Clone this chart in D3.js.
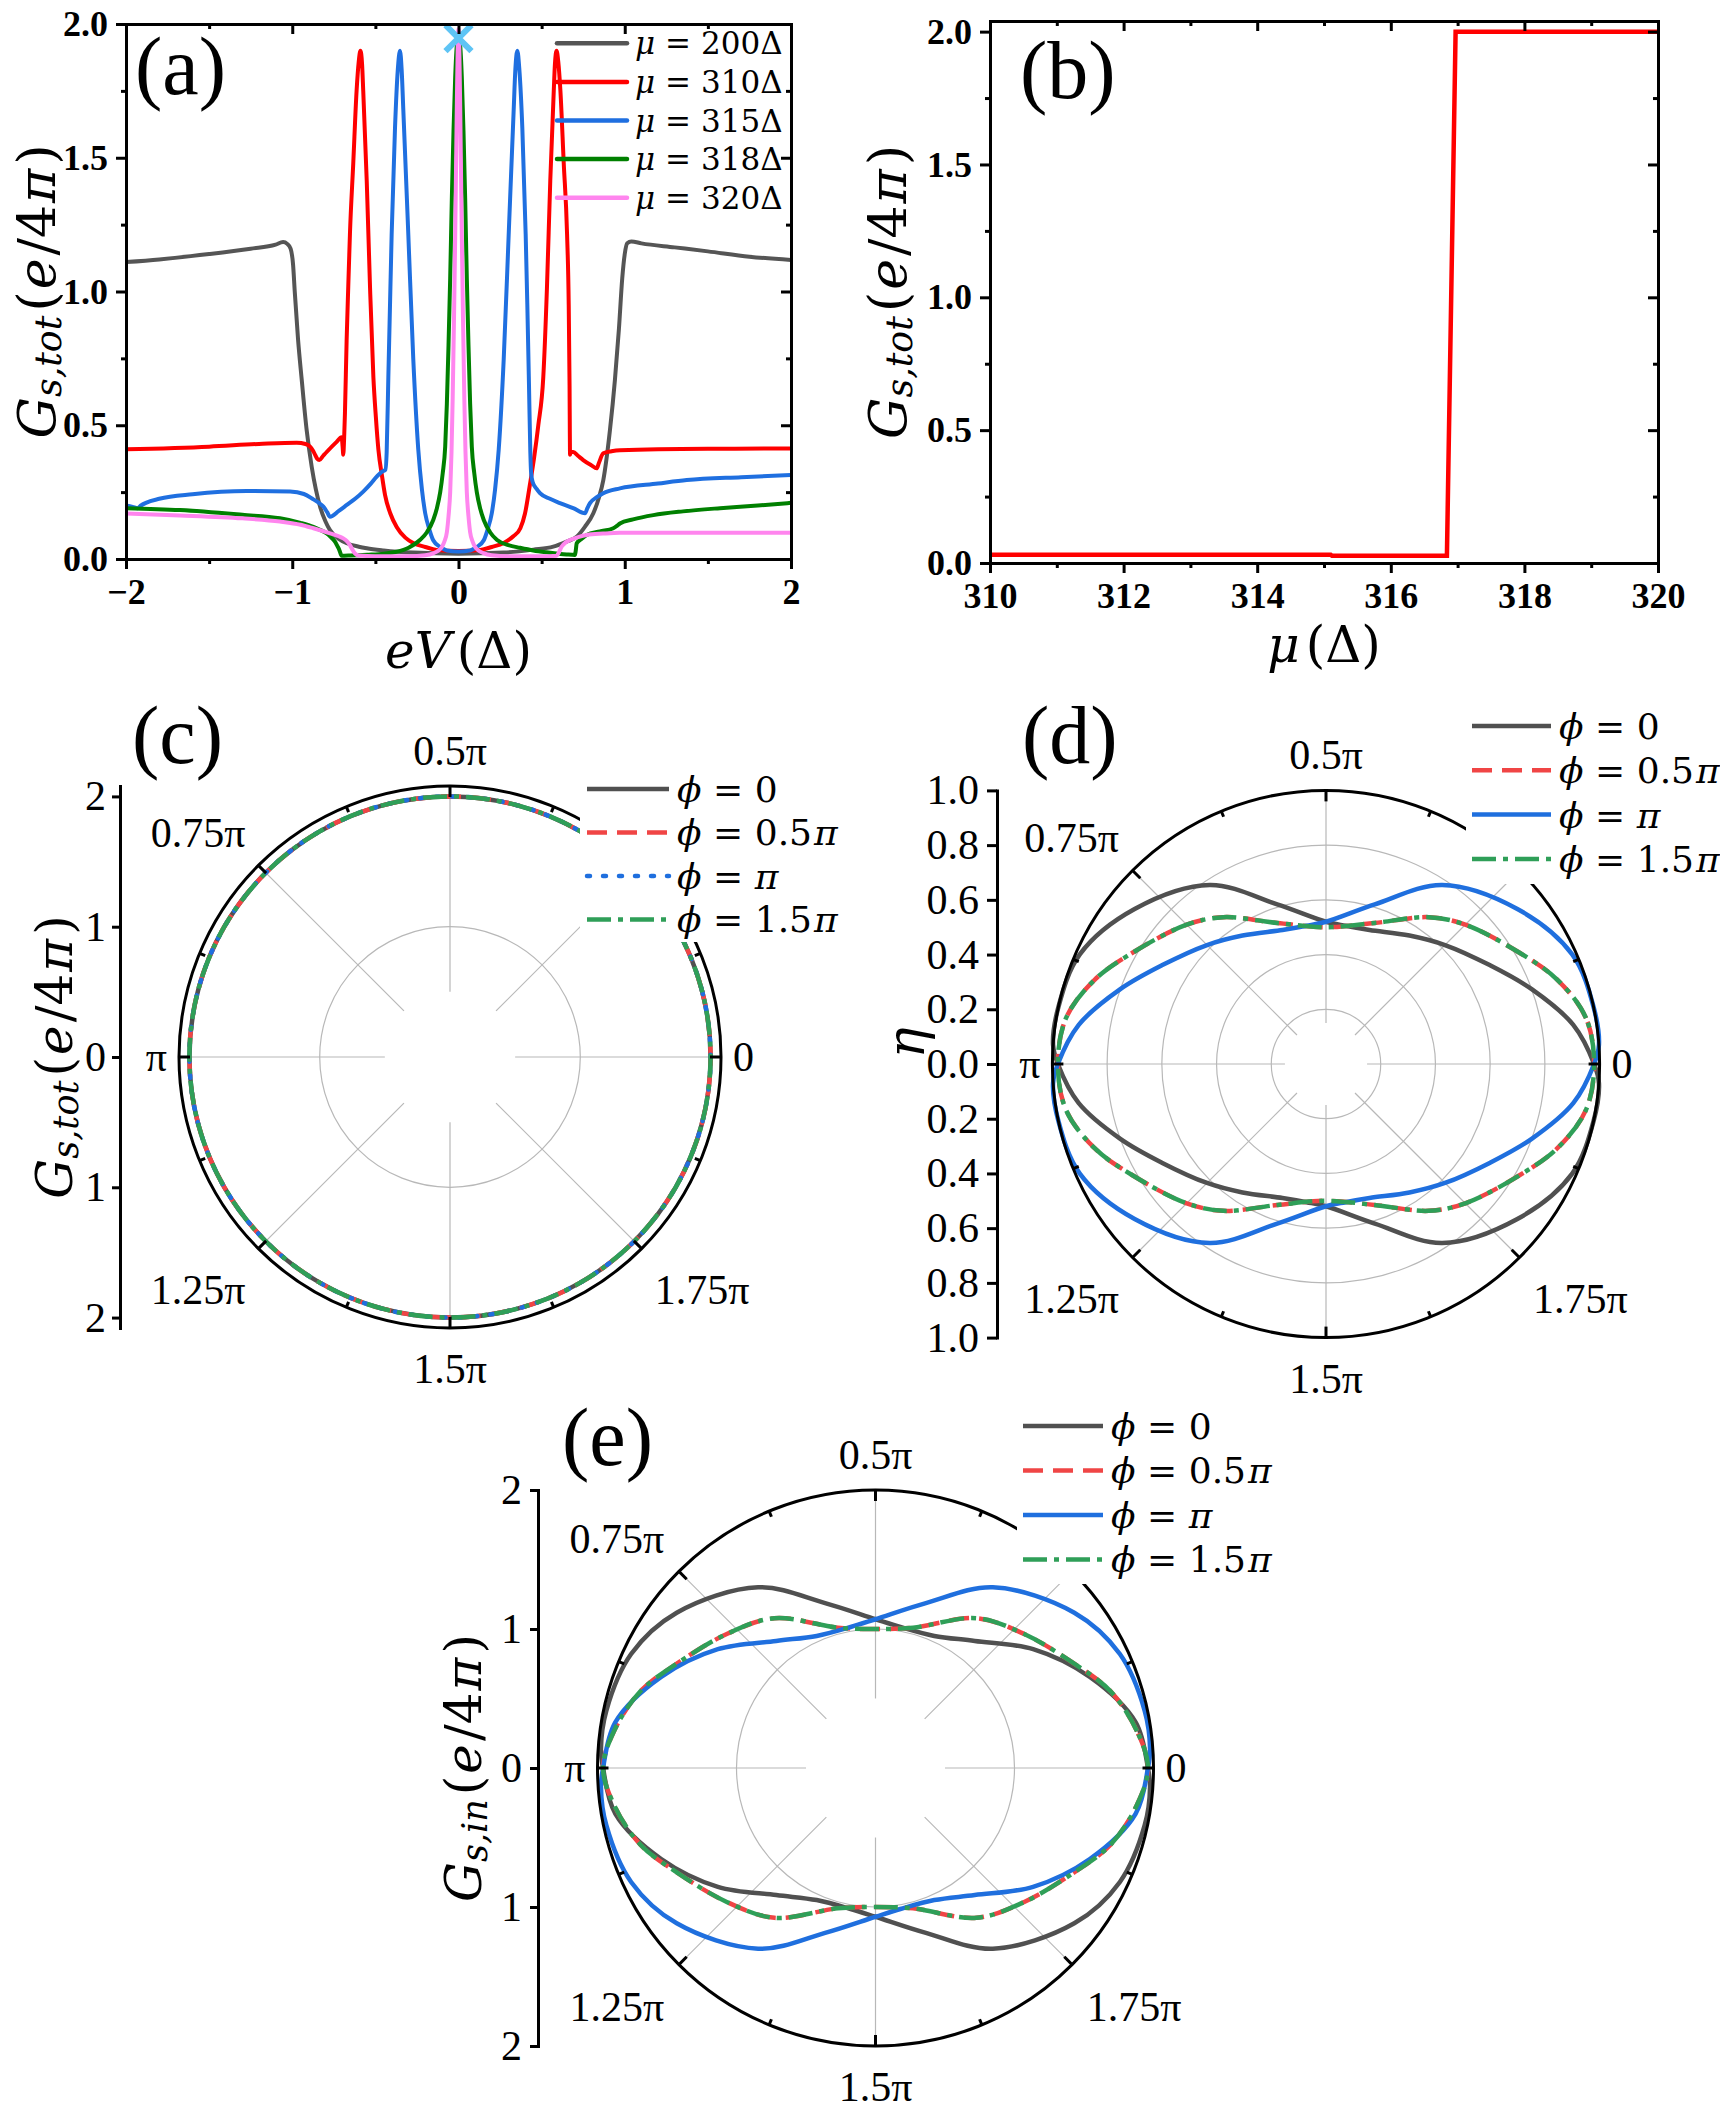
<!DOCTYPE html>
<html>
<head>
<meta charset="utf-8">
<script src="https://cdn.jsdelivr.net/npm/d3@7"></script>
<style>
html,body{margin:0;padding:0;background:#fff;}
svg{display:block;}
</style>
</head>
<body>
<svg id="fig" width="1720" height="2114" xmlns="http://www.w3.org/2000/svg"></svg>
<script>
// ====================== DATA ======================
// Panel (a): G_s,tot vs eV (in units of Δ) for several μ
const muValues = [200, 310, 315, 318, 320];
const curveMu200 = [[-2.0,1.11],[-1.8,1.12],[-1.5,1.14],[-1.25,1.16],[-1.1,1.175],[-1.055,1.185],[-1.03,1.178],[-1.01,1.16],[-0.995,1.10],[-0.985,1.0],[-0.965,0.82],[-0.943,0.67],[-0.913,0.48],[-0.883,0.345],[-0.858,0.26],[-0.833,0.196],[-0.8,0.14],[-0.773,0.108],[-0.72,0.075],[-0.672,0.059],[-0.6,0.046],[-0.552,0.04],[-0.45,0.032],[-0.272,0.024],[0,0.02],[0.272,0.024],[0.45,0.035],[0.57,0.046],[0.65,0.065],[0.711,0.083],[0.76,0.12],[0.811,0.171],[0.845,0.23],[0.871,0.295],[0.911,0.482],[0.941,0.67],[0.965,0.86],[0.985,1.05],[1.0,1.14],[1.015,1.18],[1.04,1.187],[1.1,1.18],[1.3,1.165],[1.5,1.15],[1.75,1.13],[2.0,1.118]];
const curveMu310 = [[-2.0,0.41],[-1.5,0.42],[-1.2,0.43],[-0.973,0.435],[-0.92,0.43],[-0.893,0.42],[-0.875,0.405],[-0.863,0.39],[-0.85,0.375],[-0.837,0.37],[-0.815,0.385],[-0.793,0.40],[-0.733,0.438],[-0.703,0.455],[-0.697,0.42],[-0.693,0.39],[-0.688,0.45],[-0.683,0.546],[-0.673,0.815],[-0.663,1.02],[-0.653,1.215],[-0.633,1.48],[-0.613,1.75],[-0.6,1.86],[-0.59,1.90],[-0.58,1.85],[-0.573,1.75],[-0.552,1.414],[-0.532,1.013],[-0.512,0.68],[-0.497,0.53],[-0.482,0.41],[-0.46,0.31],[-0.442,0.24],[-0.41,0.17],[-0.372,0.12],[-0.32,0.08],[-0.272,0.06],[-0.2,0.045],[-0.131,0.034],[0,0.03],[0.131,0.034],[0.2,0.045],[0.272,0.06],[0.33,0.085],[0.372,0.115],[0.40,0.17],[0.43,0.28],[0.455,0.38],[0.48,0.5],[0.51,0.68],[0.532,1.013],[0.552,1.414],[0.573,1.75],[0.58,1.85],[0.59,1.90],[0.6,1.86],[0.613,1.75],[0.633,1.48],[0.653,1.215],[0.663,0.95],[0.668,0.65],[0.671,0.39],[0.675,0.40],[0.69,0.40],[0.72,0.385],[0.75,0.37],[0.8,0.35],[0.831,0.339],[0.845,0.36],[0.871,0.395],[0.92,0.403],[0.971,0.407],[1.5,0.412],[2.0,0.413]];
const curveMu315 = [[-2.0,0.20],[-1.96,0.195],[-1.93,0.19],[-1.91,0.2],[-1.88,0.21],[-1.8,0.225],[-1.6,0.242],[-1.274,0.254],[-1.013,0.252],[-0.93,0.243],[-0.873,0.223],[-0.84,0.21],[-0.813,0.196],[-0.79,0.175],[-0.773,0.158],[-0.72,0.18],[-0.672,0.202],[-0.62,0.226],[-0.573,0.252],[-0.53,0.28],[-0.492,0.308],[-0.462,0.326],[-0.44,0.333],[-0.432,0.40],[-0.422,0.68],[-0.412,0.95],[-0.402,1.215],[-0.382,1.61],[-0.365,1.83],[-0.352,1.90],[-0.342,1.83],[-0.332,1.68],[-0.302,1.215],[-0.272,0.747],[-0.242,0.41],[-0.22,0.26],[-0.20,0.17],[-0.175,0.11],[-0.152,0.07],[-0.11,0.045],[-0.071,0.032],[0,0.028],[0.071,0.032],[0.11,0.045],[0.152,0.07],[0.175,0.11],[0.20,0.17],[0.22,0.26],[0.242,0.41],[0.272,0.747],[0.302,1.215],[0.332,1.68],[0.342,1.83],[0.354,1.90],[0.366,1.83],[0.384,1.61],[0.404,1.215],[0.414,0.95],[0.424,0.65],[0.432,0.40],[0.437,0.32],[0.445,0.29],[0.47,0.262],[0.49,0.246],[0.55,0.225],[0.61,0.209],[0.69,0.19],[0.761,0.171],[0.775,0.19],[0.791,0.209],[0.83,0.23],[0.871,0.246],[0.971,0.264],[1.2,0.282],[1.373,0.295],[1.7,0.306],[2.0,0.314]];
const curveMu318 = [[-2.0,0.19],[-1.675,0.183],[-1.3,0.165],[-1.074,0.152],[-0.95,0.135],[-0.873,0.12],[-0.83,0.108],[-0.793,0.096],[-0.765,0.08],[-0.743,0.065],[-0.73,0.05],[-0.717,0.034],[-0.708,0.018],[-0.703,0.012],[-0.65,0.013],[-0.55,0.016],[-0.45,0.02],[-0.372,0.027],[-0.3,0.042],[-0.232,0.071],[-0.19,0.1],[-0.152,0.146],[-0.13,0.19],[-0.11,0.25],[-0.095,0.32],[-0.08,0.42],[-0.07,0.58],[-0.06,0.8],[-0.05,1.05],[-0.04,1.35],[-0.03,1.6],[-0.02,1.8],[-0.01,1.92],[0,1.95],[0.01,1.92],[0.02,1.8],[0.03,1.6],[0.04,1.35],[0.05,1.05],[0.06,0.8],[0.07,0.58],[0.08,0.42],[0.095,0.32],[0.11,0.25],[0.13,0.19],[0.152,0.146],[0.19,0.1],[0.232,0.071],[0.3,0.052],[0.37,0.042],[0.45,0.032],[0.53,0.025],[0.6,0.02],[0.65,0.017],[0.7,0.015],[0.705,0.03],[0.711,0.059],[0.74,0.075],[0.771,0.09],[0.85,0.103],[0.931,0.115],[0.955,0.125],[0.971,0.133],[1.05,0.148],[1.172,0.164],[1.35,0.178],[1.573,0.19],[1.8,0.2],[2.0,0.21]];
const curveMu320 = [[-2.0,0.17],[-1.675,0.163],[-1.3,0.152],[-1.074,0.14],[-0.95,0.128],[-0.873,0.115],[-0.773,0.096],[-0.72,0.085],[-0.693,0.077],[-0.67,0.066],[-0.653,0.052],[-0.638,0.035],[-0.623,0.021],[-0.6,0.013],[-0.5,0.01],[-0.3,0.01],[-0.2,0.014],[-0.15,0.022],[-0.12,0.032],[-0.1,0.045],[-0.085,0.065],[-0.07,0.1],[-0.06,0.16],[-0.05,0.25],[-0.042,0.4],[-0.035,0.6],[-0.027,0.9],[-0.02,1.2],[-0.015,1.45],[-0.01,1.7],[-0.005,1.9],[0,1.98],[0.005,1.9],[0.01,1.7],[0.015,1.45],[0.02,1.2],[0.027,0.9],[0.035,0.6],[0.042,0.4],[0.05,0.25],[0.06,0.16],[0.07,0.1],[0.085,0.065],[0.1,0.045],[0.12,0.032],[0.15,0.022],[0.2,0.014],[0.3,0.01],[0.5,0.01],[0.59,0.012],[0.6,0.02],[0.62,0.046],[0.645,0.062],[0.671,0.071],[0.72,0.082],[0.771,0.09],[0.87,0.095],[0.971,0.098],[1.5,0.098],[2.0,0.098]];
const markerA = [[0, 1.947]];
const ticksAX = [-2,-1,0,1,2];
const minorAX = [-1.5,-0.5,0.5,1.5];
const ticksAY = [0,0.5,1,1.5,2];
const minorAY = [0.25,0.75,1.25,1.75];

// Panel (b): G_s,tot vs μ
const curveB = [[310,0.031],[315.1,0.031],[315.12,0.027],[316.84,0.027],[316.97,2.0],[320,2.0]];
const ticksBX = [310,312,314,316,318,320];
const minorBX = [311,313,315,317,319];
const ticksBY = [0,0.5,1,1.5,2];
const minorBY = [0.25,0.75,1.25,1.75];

// Panels (c)-(e): polar data [angle in degrees, radius]
const phiLabels = ["0","0.5π","π","1.5π"];
// angle labels visible in the figure (0.25π sits under the legend and is not shown)
const angleLabels = ["0","","0.5π","0.75π","π","1.25π","1.5π","1.75π"];

const cPhi0  = [[0,2],[15,2],[30,2],[45,2],[60,2],[75,2],[90,2],[105,2],[120,2],[135,2],[150,2],[165,2],[180,2],[195,2],[210,2],[225,2],[240,2],[255,2],[270,2],[285,2],[300,2],[315,2],[330,2],[345,2]];
const cPhi05 = [[0,2],[15,2],[30,2],[45,2],[60,2],[75,2],[90,2],[105,2],[120,2],[135,2],[150,2],[165,2],[180,2],[195,2],[210,2],[225,2],[240,2],[255,2],[270,2],[285,2],[300,2],[315,2],[330,2],[345,2]];
const cPhi1  = [[0,2],[15,2],[30,2],[45,2],[60,2],[75,2],[90,2],[105,2],[120,2],[135,2],[150,2],[165,2],[180,2],[195,2],[210,2],[225,2],[240,2],[255,2],[270,2],[285,2],[300,2],[315,2],[330,2],[345,2]];
const cPhi15 = [[0,2],[15,2],[30,2],[45,2],[60,2],[75,2],[90,2],[105,2],[120,2],[135,2],[150,2],[165,2],[180,2],[195,2],[210,2],[225,2],[240,2],[255,2],[270,2],[285,2],[300,2],[315,2],[330,2],[345,2]];

const dPhi0  = [[0,0.98],[9,0.915],[20,0.80],[31,0.70],[45,0.615],[57,0.56],[72,0.515],[82,0.51],[90,0.52],[107,0.61],[123,0.78],[141,0.90],[156,0.985],[168,1.0],[176,1.0],[180,0.98],[189,0.915],[200,0.80],[211,0.70],[225,0.615],[237,0.56],[252,0.515],[262,0.51],[270,0.52],[287,0.61],[303,0.78],[321,0.90],[336,0.985],[348,1.0],[356,1.0]];
const dPhi05 = [[0,0.98],[10,0.965],[20,0.90],[30,0.815],[45,0.72],[55,0.655],[71,0.545],[90,0.50],[109,0.545],[125,0.655],[135,0.72],[150,0.815],[160,0.90],[170,0.965],[180,0.98],[190,0.965],[200,0.90],[210,0.815],[225,0.72],[235,0.655],[251,0.545],[270,0.50],[289,0.545],[305,0.655],[315,0.72],[330,0.815],[340,0.90],[350,0.965]];
const dPhi1  = [[0,0.98],[4,1.0],[12,1.0],[24,0.985],[39,0.90],[57,0.78],[73,0.61],[90,0.52],[98,0.51],[108,0.515],[123,0.56],[135,0.615],[149,0.70],[160,0.80],[171,0.915],[180,0.98],[184,1.0],[192,1.0],[204,0.985],[219,0.90],[237,0.78],[253,0.61],[270,0.52],[278,0.51],[288,0.515],[303,0.56],[315,0.615],[329,0.70],[340,0.80],[351,0.915]];
const dPhi15 = [[0,0.98],[10,0.965],[20,0.90],[30,0.815],[45,0.72],[55,0.655],[71,0.545],[90,0.50],[109,0.545],[125,0.655],[135,0.72],[150,0.815],[160,0.90],[170,0.965],[180,0.98],[190,0.965],[200,0.90],[210,0.815],[225,0.72],[235,0.655],[251,0.545],[270,0.50],[289,0.545],[305,0.655],[315,0.72],[330,0.815],[340,0.90],[350,0.965]];

const ePhi0  = [[0,1.96],[10,1.90],[23,1.675],[37,1.42],[52,1.16],[66,1.04],[80,1.03],[90,1.07],[107,1.24],[123,1.55],[142,1.815],[155,1.94],[168,1.98],[176,1.98],[180,1.96],[190,1.90],[203,1.675],[217,1.42],[232,1.16],[246,1.04],[260,1.03],[270,1.07],[287,1.24],[303,1.55],[322,1.815],[335,1.94],[348,1.98],[356,1.98]];
const ePhi05 = [[0,1.96],[8,1.90],[18,1.78],[28,1.61],[42,1.44],[56,1.30],[75,1.045],[90,1.0],[105,1.045],[124,1.30],[138,1.44],[152,1.61],[162,1.78],[172,1.90],[180,1.96],[188,1.90],[198,1.78],[208,1.61],[222,1.44],[236,1.30],[255,1.045],[270,1.0],[285,1.045],[304,1.30],[318,1.44],[332,1.61],[342,1.78],[352,1.90]];
const ePhi1  = [[0,1.96],[4,1.98],[12,1.98],[25,1.94],[38,1.815],[57,1.55],[73,1.24],[90,1.07],[100,1.03],[114,1.04],[128,1.16],[143,1.42],[157,1.675],[170,1.90],[180,1.96],[184,1.98],[192,1.98],[205,1.94],[218,1.815],[237,1.55],[253,1.24],[270,1.07],[280,1.03],[294,1.04],[308,1.16],[323,1.42],[337,1.675],[350,1.90]];
const ePhi15 = [[0,1.96],[8,1.90],[18,1.78],[28,1.61],[42,1.44],[56,1.30],[75,1.045],[90,1.0],[105,1.045],[124,1.30],[138,1.44],[152,1.61],[162,1.78],[172,1.90],[180,1.96],[188,1.90],[198,1.78],[208,1.61],[222,1.44],[236,1.30],[255,1.045],[270,1.0],[285,1.045],[304,1.30],[318,1.44],[332,1.61],[342,1.78],[352,1.90]];

// ====================== DRAWING ======================
const svg = d3.select("#fig");
const SERIF = "'Liberation Serif','Times New Roman',serif";
const MATH = "'DejaVu Serif',serif";
svg.append("rect").attr("width",1720).attr("height",2114).attr("fill","#fff");

function styleAxis(g, opt){
  opt = opt || {};
  g.attr("font-family", null).attr("font-size", null);
  g.select(".domain").attr("stroke","#000").attr("stroke-width",3).attr("stroke-linecap","square");
  g.selectAll(".tick line").attr("stroke","#000").attr("stroke-width",3);
  g.selectAll(".tick text").attr("fill","#000").attr("font-family",SERIF)
    .attr("font-size",opt.fs||36).attr("font-weight",opt.bold?"bold":"normal");
}
const noLabel = () => "";

function boxAxes(xs, ys, xt, xm, xf, yt, ym, yf){
  const [xl, xr] = xs.range();
  const [yb, yt0] = ys.range();
  svg.append("g").attr("transform",`translate(0,${yb})`)
    .call(d3.axisBottom(xs).tickValues(xm).tickFormat(noLabel).tickSize(5).tickSizeOuter(0)).call(styleAxis);
  svg.append("g").attr("transform",`translate(0,${yb})`)
    .call(d3.axisBottom(xs).tickValues(xt).tickFormat(xf).tickSize(10).tickPadding(9).tickSizeOuter(0)).call(styleAxis,{bold:true});
  svg.append("g").attr("transform",`translate(0,${yt0})`)
    .call(d3.axisTop(xs).tickValues(xm).tickFormat(noLabel).tickSize(-5).tickSizeOuter(0)).call(styleAxis);
  svg.append("g").attr("transform",`translate(0,${yt0})`)
    .call(d3.axisTop(xs).tickValues(xt).tickFormat(noLabel).tickSize(-10).tickSizeOuter(0)).call(styleAxis);
  svg.append("g").attr("transform",`translate(${xl},0)`)
    .call(d3.axisLeft(ys).tickValues(ym).tickFormat(noLabel).tickSize(5).tickSizeOuter(0)).call(styleAxis);
  svg.append("g").attr("transform",`translate(${xl},0)`)
    .call(d3.axisLeft(ys).tickValues(yt).tickFormat(yf).tickSize(10).tickPadding(8).tickSizeOuter(0)).call(styleAxis,{bold:true});
  svg.append("g").attr("transform",`translate(${xr},0)`)
    .call(d3.axisRight(ys).tickValues(ym).tickFormat(noLabel).tickSize(-5).tickSizeOuter(0)).call(styleAxis);
  svg.append("g").attr("transform",`translate(${xr},0)`)
    .call(d3.axisRight(ys).tickValues(yt).tickFormat(noLabel).tickSize(-10).tickSizeOuter(0)).call(styleAxis);
}

function gTitle(x, y, sub, fs){
  const t = svg.append("text").attr("transform",`translate(${x},${y}) rotate(-90)`)
    .attr("text-anchor","middle").attr("font-family",MATH).attr("font-size",fs).attr("fill","#000");
  const sh = 0.22*fs;
  t.append("tspan").attr("font-style","italic").text("G");
  t.append("tspan").attr("font-style","italic").attr("font-size",0.7*fs).attr("dy",sh).text(sub);
  t.append("tspan").attr("dy",-sh).attr("dx",4).text("(");
  t.append("tspan").attr("font-style","italic").attr("dx",2).text("e");
  t.append("tspan").attr("dx",3).text("/4");
  t.append("tspan").attr("font-style","italic").attr("dx",2).text("π");
  t.append("tspan").attr("dx",4).text(")");
  return t;
}
function panelLetter(x, y, s){
  svg.append("text").attr("x",x).attr("y",y).attr("font-family",SERIF).attr("font-size",82).attr("fill","#000").text(s);
}
// math legend label: italic symbol, "=", value (π italic)
function mathLabel(t, sym, val, fs){
  t.append("tspan").attr("font-style","italic").text(sym);
  t.append("tspan").attr("dx",0.32*fs).text("=");
  const m = String(val);
  if (m.endsWith("π")) {
    if (m.length>1) t.append("tspan").attr("dx",0.32*fs).text(m.slice(0,-1));
    t.append("tspan").attr("font-style","italic").attr("dx",m.length>1?2:0.32*fs).text("π");
  } else t.append("tspan").attr("dx",0.32*fs).text(m);
}

// ---------- Panel (a) ----------
(function(){
  const xs = d3.scaleLinear([-2,2],[126,791]);
  const ys = d3.scaleLinear([0,2],[559,24]);
  const colors = ["#555555","#ff0000","#1f6fe0","#008000","#ff85ee"];
  const curves = [curveMu200, curveMu310, curveMu315, curveMu318, curveMu320];
  svg.append("clipPath").attr("id","clipA").append("rect")
    .attr("x",126).attr("y",24).attr("width",665).attr("height",535);
  const line = d3.line().x(d=>xs(d[0])).y(d=>ys(d[1])).curve(d3.curveMonotoneX);
  const g = svg.append("g").attr("clip-path","url(#clipA)");
  curves.forEach((c,i)=>{
    g.append("path").attr("d",line(c)).attr("fill","none").attr("stroke",colors[i])
      .attr("stroke-width",4).attr("stroke-linejoin","round");
  });
  // marker ×
  const s = 13;
  svg.selectAll(null).data(markerA).join("path")
    .attr("d",d=>{const x=xs(d[0]),y=ys(d[1]);return `M${x-s},${y-s}L${x+s},${y+s}M${x-s},${y+s}L${x+s},${y-s}`;})
    .attr("stroke","#5ec4f5").attr("stroke-width",6).attr("fill","none");
  boxAxes(xs, ys, ticksAX, minorAX, d3.format("d"), ticksAY, minorAY, d3.format(".1f"));
  // legend
  muValues.forEach((m,i)=>{
    const y = 43.3 + i*38.6;
    svg.append("line").attr("x1",557).attr("x2",627).attr("y1",y).attr("y2",y)
      .attr("stroke",colors[i]).attr("stroke-width",4.5).attr("stroke-linecap","round");
    const t = svg.append("text").attr("x",635).attr("y",y+0.36*31).attr("font-family",MATH).attr("font-size",31).attr("fill","#000");
    mathLabel(t, "μ", m + "Δ", 31);
  });
  // titles
  const xt = svg.append("text").attr("x",458.5).attr("y",668).attr("text-anchor","middle")
    .attr("font-family",MATH).attr("font-size",50).attr("fill","#000");
  xt.append("tspan").attr("font-style","italic").text("eV");
  xt.append("tspan").attr("dx",6).text("(Δ)");
  gTitle(37, 291.5, "s,tot", 52).attr("dominant-baseline","central");
  panelLetter(135, 94, "(a)");
})();

// ---------- Panel (b) ----------
(function(){
  const xs = d3.scaleLinear([310,320],[990,1658]);
  const ys = d3.scaleLinear([0,2.04],[563,21]);
  const line = d3.line().x(d=>xs(d[0])).y(d=>ys(d[1]));
  svg.append("path").attr("d",line(curveB)).attr("fill","none").attr("stroke","#ff0000")
    .attr("stroke-width",4.5).attr("stroke-linejoin","miter");
  boxAxes(xs, ys, ticksBX, minorBX, d3.format("d"), ticksBY, minorBY, d3.format(".1f"));
  const xt = svg.append("text").attr("x",1324).attr("y",662).attr("text-anchor","middle")
    .attr("font-family",MATH).attr("font-size",50).attr("fill","#000");
  xt.append("tspan").attr("font-style","italic").text("μ");
  xt.append("tspan").attr("dx",6).text("(Δ)");
  gTitle(888, 292, "s,tot", 52).attr("dominant-baseline","central");
  panelLetter(1020, 98, "(b)");
})();

// ---------- Polar panels ----------
function polar(cfg){
  const r = d3.scaleLinear([0,cfg.rmax],[0,cfg.R]);
  const R = cfg.R;
  const g = svg.append("g").attr("transform",`translate(${cfg.cx},${cfg.cy})`);
  const gridCol = "#b8b8b8";
  g.selectAll(null).data(cfg.grid).join("circle").attr("r",d=>r(d))
    .attr("fill","none").attr("stroke",gridCol).attr("stroke-width",1.2);
  const spokeAngles = d3.range(8).map(k=>k*Math.PI/4);
  g.selectAll(null).data(spokeAngles).join("line")
    .attr("x1",a=>r(cfg.spokeIn)*Math.cos(a)).attr("y1",a=>-r(cfg.spokeIn)*Math.sin(a))
    .attr("x2",a=>R*Math.cos(a)).attr("y2",a=>-R*Math.sin(a))
    .attr("stroke",gridCol).attr("stroke-width",1.2);
  const line = d3.lineRadial().angle(d=>Math.PI/2 - d[0]*Math.PI/180).radius(d=>r(d[1]))
    .curve(d3.curveCatmullRomClosed.alpha(0.5));
  cfg.series.forEach(s=>{
    g.append("path").attr("d",line(s.data)).attr("fill","none").attr("stroke",s.color)
      .attr("stroke-width",4.5).attr("stroke-dasharray",s.dash||null).attr("stroke-linecap",s.cap||"butt");
  });
  g.append("circle").attr("r",R).attr("fill","none").attr("stroke","#000").attr("stroke-width",3);
  // circular ticks (inward)
  const tickAngles = d3.range(16).map(k=>k*Math.PI/8);
  g.selectAll(null).data(tickAngles).join("line")
    .attr("x1",a=>R*Math.cos(a)).attr("y1",a=>-R*Math.sin(a))
    .attr("x2",(a,i)=>(R-(i%2?6:11))*Math.cos(a)).attr("y2",(a,i)=>-(R-(i%2?6:11))*Math.sin(a))
    .attr("stroke","#000").attr("stroke-width",3);
  // angle labels
  angleLabels.forEach((t,k)=>{
    if (!t) return;
    let x=0,y=0,anchor="middle",base="alphabetic";
    switch(k){
      case 0: x=R+12; y=0; anchor="start"; base="central"; break;
      case 1: x=0.93*R; y=-0.775*R; break;
      case 2: x=0; y=-R-21; break;
      case 3: x=-0.93*R; y=-0.775*R; break;
      case 4: x=-R-12; y=0; anchor="end"; base="central"; break;
      case 5: x=-0.93*R; y=0.91*R; break;
      case 6: x=0; y=R+55; break;
      case 7: x=0.93*R; y=0.91*R; break;
    }
    g.append("text").attr("x",x).attr("y",y).attr("text-anchor",anchor).attr("dominant-baseline",base)
      .attr("font-family",SERIF).attr("font-size",42).attr("fill","#000").text(t);
  });
  // legend box + legend
  const L = cfg.legend;
  svg.append("rect").attr("x",L.bx).attr("y",L.by).attr("width",L.bw).attr("height",L.bh).attr("fill","#fff");
  cfg.series.forEach((s,i)=>{
    const y = L.y0 + i*L.dy;
    svg.append("line").attr("x1",L.x1).attr("x2",L.x2).attr("y1",y).attr("y2",y)
      .attr("stroke",s.color).attr("stroke-width",4.5).attr("stroke-dasharray",s.dash||null).attr("stroke-linecap",s.cap||"butt");
    const fs = 36;
    const t = svg.append("text").attr("x",L.x2+8).attr("y",y+0.36*fs).attr("font-family",MATH).attr("font-size",fs).attr("fill","#000");
    mathLabel(t, "ϕ", phiLabels[i], fs);
  });
  // y axis
  const ys = d3.scaleLinear([-cfg.rmax,cfg.rmax],[cfg.cy+R,cfg.cy-R]);
  svg.append("g").attr("transform",`translate(${cfg.axisX},0)`)
    .call(d3.axisLeft(ys).tickValues(cfg.yTicks).tickFormat(d=>cfg.yFmt(Math.abs(d))).tickSize(cfg.tickLen).tickPadding(cfg.tickPad).tickSizeOuter(0))
    .call(styleAxis,{fs:42});
}

// (c)
polar({cx:450, cy:1057, R:271, rmax:2.08, grid:[1], spokeIn:0.5,
  series:[
    {data:cPhi0, color:"#505050"},
    {data:cPhi05, color:"#f04545", dash:"20,10"},
    {data:cPhi1, color:"#1f6fde", dash:"3,13", cap:"round"},
    {data:cPhi15, color:"#2f9f58", dash:"24,7,5,7"}
  ],
  legend:{bx:580, by:762, bw:270, bh:180, x1:587, x2:669, y0:789, dy:43.5},
  axisX:120, yTicks:[-2,-1,0,1,2], yFmt:d3.format("d"), tickLen:8, tickPad:6});
gTitle(55, 1057, "s,tot", 50).attr("dominant-baseline","central");
panelLetter(132, 763, "(c)");

// (d)
polar({cx:1326, cy:1064, R:273.6, rmax:1.0, grid:[0.2,0.4,0.6,0.8], spokeIn:0.15,
  series:[
    {data:dPhi0, color:"#505050"},
    {data:dPhi05, color:"#f04545", dash:"20,10"},
    {data:dPhi1, color:"#1f6fde"},
    {data:dPhi15, color:"#2f9f58", dash:"24,7,5,7"}
  ],
  legend:{bx:1466, by:700, bw:254, bh:184, x1:1472, x2:1551, y0:726, dy:44.3},
  axisX:997, yTicks:[-1,-0.8,-0.6,-0.4,-0.2,0,0.2,0.4,0.6,0.8,1], yFmt:d3.format(".1f"), tickLen:10, tickPad:8});
svg.append("text").attr("transform","translate(906,1043) rotate(-90)").attr("text-anchor","middle")
  .attr("dominant-baseline","central").attr("font-family",MATH).attr("font-size",52)
  .attr("font-style","italic").attr("fill","#000").text("η");
panelLetter(1022, 763, "(d)");

// (e)
polar({cx:875.5, cy:1768, R:278, rmax:2.0, grid:[1], spokeIn:0.5,
  series:[
    {data:ePhi0, color:"#505050"},
    {data:ePhi05, color:"#f04545", dash:"20,10"},
    {data:ePhi1, color:"#1f6fde"},
    {data:ePhi15, color:"#2f9f58", dash:"24,7,5,7"}
  ],
  legend:{bx:1017, by:1398, bw:310, bh:186, x1:1023, x2:1103, y0:1426, dy:44.5},
  axisX:538, yTicks:[-2,-1,0,1,2], yFmt:d3.format("d"), tickLen:8, tickPad:8});
gTitle(464, 1768, "s,in", 50).attr("dominant-baseline","central");
panelLetter(562, 1465, "(e)");
</script>
</body>
</html>
